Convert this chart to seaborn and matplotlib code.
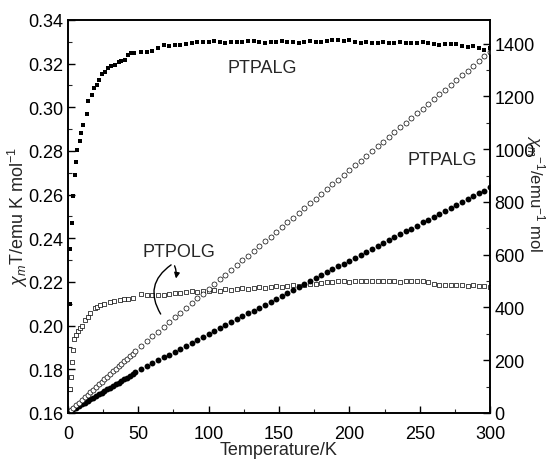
import numpy as np
import pandas as pd
import matplotlib
matplotlib.use("Agg")
import matplotlib.pyplot as plt
import seaborn as sns
from matplotlib.ticker import MultipleLocator

# temperature grids (K)
t_hi = [52, 56, 60, 64, 68, 72, 76, 80, 84, 88, 92, 96, 100, 104, 108, 112, 116, 120,
        124, 128, 132, 136, 140, 144, 148, 152, 156, 160, 164, 168, 172, 176, 180, 184,
        188, 192, 196, 200, 204, 208, 212, 216, 220, 224, 228, 232, 236, 240, 244, 248,
        252, 256, 260, 264, 268, 272, 276, 280, 284, 288, 292, 296, 300]
t_lo = [2, 4, 6, 8, 10, 12, 14, 16, 18, 20, 22, 24, 26, 28, 30, 32, 34, 36, 38, 40,
        42, 44, 46, 48]

# PTPALG chi_m T (filled squares, left axis)
palg_t_lo = [1.2, 1.8, 2.8, 3.6, 5.0, 6.0, 6.8, 8.6, 9.3, 10.7, 13.4, 14.5, 17, 18.8,
             20.4, 22, 24, 26.6, 28.8, 31, 33.6, 36, 38, 40.5, 42.6, 44.7, 47]
palg_chit_lo = [0.210, 0.235, 0.247, 0.2595, 0.269, 0.2747, 0.2805, 0.2845, 0.288,
                0.292, 0.297, 0.303, 0.3056, 0.3088, 0.310, 0.3126, 0.315, 0.3163,
                0.318, 0.3188, 0.3194, 0.3205, 0.321, 0.3216, 0.324, 0.325, 0.325]
palg_chit_hi = [0.3253, 0.3255, 0.3257, 0.3270, 0.3285, 0.3280, 0.3283, 0.3285, 0.3290,
                0.3294, 0.3300, 0.3298, 0.3300, 0.3302, 0.3298, 0.3295, 0.3300, 0.3298,
                0.3300, 0.3302, 0.3305, 0.3300, 0.3296, 0.3300, 0.3298, 0.3302, 0.3300,
                0.3298, 0.3296, 0.3300, 0.3302, 0.3300, 0.3298, 0.3305, 0.3310, 0.3308,
                0.3305, 0.3310, 0.3300, 0.3296, 0.3298, 0.3295, 0.3296, 0.3298, 0.3296,
                0.3295, 0.3298, 0.3296, 0.3294, 0.3296, 0.3298, 0.3296, 0.3288, 0.3285,
                0.3288, 0.3290, 0.3288, 0.3280, 0.3276, 0.3280, 0.3270, 0.3262, 0.3270]

# PTPOLG chi_m T (open squares, left axis)
polg_t_lo = [1.5, 2.2, 2.9, 3.6, 4.3, 5.7, 7, 8.5, 10, 12, 14, 16, 19, 21, 23, 26, 30,
             33, 37, 40, 43, 46]
polg_chit_lo = [0.171, 0.1766, 0.1834, 0.189, 0.194, 0.1955, 0.1977, 0.199, 0.200,
                0.2024, 0.204, 0.2056, 0.208, 0.2087, 0.2093, 0.210, 0.211, 0.2113,
                0.2116, 0.212, 0.2122, 0.2125]
polg_chit_hi = [0.2143, 0.2140, 0.2142, 0.2139, 0.2142, 0.2145, 0.2148, 0.2150, 0.2152,
                0.2157, 0.2155, 0.2158, 0.2160, 0.2162, 0.2160, 0.2166, 0.2165, 0.2168,
                0.2170, 0.2168, 0.2172, 0.2175, 0.2172, 0.2176, 0.2180, 0.2178, 0.2182,
                0.2185, 0.2183, 0.2188, 0.2190, 0.2192, 0.2195, 0.2198, 0.2200, 0.2202,
                0.2203, 0.2200, 0.2203, 0.2202, 0.2204, 0.2203, 0.2202, 0.2203, 0.2202,
                0.2203, 0.2201, 0.2203, 0.2202, 0.2204, 0.2202, 0.2200, 0.2190, 0.2187,
                0.2185, 0.2188, 0.2186, 0.2185, 0.2183, 0.2185, 0.2182, 0.2180, 0.2178]

# PTPALG 1/chi_m (filled circles, right axis)
palg_inv_lo = [7, 13, 19, 26, 32, 38, 45, 51, 58, 64, 70, 77, 83, 90, 96, 102, 109, 115,
               122, 128, 134, 141, 147, 154]
palg_inv_hi = [166, 177, 188, 199, 210, 221, 232, 243, 255, 266, 277, 288, 299, 310, 321,
               332, 343, 355, 366, 377, 388, 399, 410, 421, 432, 444, 455, 466, 477, 488,
               499, 510, 521, 533, 544, 555, 566, 577, 588, 599, 610, 621, 633, 644, 655,
               666, 677, 688, 699, 710, 722, 733, 744, 755, 766, 777, 788, 799, 811, 822,
               833, 841, 856]

# PTPOLG 1/chi_m (open circles, right axis)
polg_inv_lo = [10, 20, 29, 39, 49, 59, 69, 78, 88, 98, 108, 118, 127, 137, 147, 157, 167,
               176, 186, 196, 206, 216, 225, 235]
polg_inv_hi = [254, 272, 290, 308, 326, 344, 362, 380, 398, 416, 434, 452, 470, 488, 506,
               524, 542, 560, 578, 596, 614, 632, 650, 668, 686, 704, 722, 740, 758, 776,
               794, 812, 830, 848, 866, 884, 902, 920, 938, 956, 974, 992, 1010, 1028, 1046,
               1064, 1082, 1100, 1118, 1136, 1154, 1172, 1190, 1208, 1226, 1244, 1262, 1280,
               1298, 1316, 1334, 1352, 1370]

sns.set_style("ticks")
plt.rcParams['font.family'] = ['Liberation Sans', 'DejaVu Sans']
plt.rcParams['mathtext.fontset'] = 'custom'
plt.rcParams['mathtext.rm'] = 'Liberation Sans'
plt.rcParams['mathtext.it'] = 'Liberation Sans:italic'

palg_sq = pd.DataFrame({'T': palg_t_lo + t_hi, 'v': palg_chit_lo + palg_chit_hi})
polg_sq = pd.DataFrame({'T': polg_t_lo + t_hi, 'v': polg_chit_lo + polg_chit_hi})
palg_ci = pd.DataFrame({'T': t_lo + t_hi, 'v': palg_inv_lo + palg_inv_hi})
polg_ci = pd.DataFrame({'T': t_lo + t_hi, 'v': polg_inv_lo + polg_inv_hi})

fig = plt.figure(figsize=(5.47, 4.64), dpi=100)
ax = fig.add_axes([0.124, 0.108, 0.772, 0.847])
ax2 = ax.twinx()

sns.scatterplot(data=palg_sq, x='T', y='v', ax=ax, marker='s', s=9, color='black',
                linewidth=0)
sns.scatterplot(data=polg_sq, x='T', y='v', ax=ax, marker='s', s=10, facecolor='white',
                edgecolor='black', linewidth=0.5)
sns.scatterplot(data=palg_ci, x='T', y='v', ax=ax2, marker='o', s=18, color='black',
                linewidth=0)
sns.scatterplot(data=polg_ci, x='T', y='v', ax=ax2, marker='o', s=13, facecolor='white',
                edgecolor='black', linewidth=0.5)

ax.set_xlim(0, 300)
ax.set_ylim(0.16, 0.34)
ax2.set_ylim(0, 1490)
ax.xaxis.set_major_locator(MultipleLocator(50))
ax.xaxis.set_minor_locator(MultipleLocator(25))
ax.yaxis.set_major_locator(MultipleLocator(0.02))
ax.yaxis.set_minor_locator(MultipleLocator(0.01))
ax2.yaxis.set_major_locator(MultipleLocator(200))
ax2.yaxis.set_minor_locator(MultipleLocator(100))
ax.yaxis.set_major_formatter(matplotlib.ticker.FormatStrFormatter('%.2f'))

for a in (ax, ax2):
    a.tick_params(which='major', direction='in', length=5, width=1, labelsize=13,
                  colors='black', pad=3)
    a.tick_params(which='minor', direction='in', length=3, width=0.8)
    for sp in a.spines.values():
        sp.set_visible(True)
        sp.set_linewidth(1.2)
        sp.set_color('black')
ax.tick_params(top=False, right=False, which='both')
ax.tick_params(axis='x', pad=9)

ax.set_xlabel('Temperature/K', fontsize=13, labelpad=-1)
ax.set_ylabel(r'$\chi_m$T/emu K mol$^{-1}$', fontsize=13, va='center')
ax.yaxis.set_label_coords(-0.118, 0.5)
ax2.set_ylabel(r'$\chi_m$$^{-1}$/emu$^{-1}$ mol', fontsize=12, rotation=270, va='center')
ax2.yaxis.set_label_coords(1.108, 0.56)

ax.text(138, 0.3184, 'PTPALG', fontsize=13, ha='center', va='center')
ax.text(266, 0.276, 'PTPALG', fontsize=13, ha='center', va='center')
ax.text(79, 0.234, 'PTPOLG', fontsize=13, ha='center', va='center')

ax.annotate('', xy=(76.4, 0.2203), xytext=(75, 0.2285),
            arrowprops=dict(arrowstyle='-|>', color='black', lw=1, mutation_scale=8,
                            connectionstyle='arc3,rad=-0.2'))
ax.annotate('', xy=(67, 0.2042), xytext=(75, 0.2285),
            arrowprops=dict(arrowstyle='-', color='black', lw=1,
                            connectionstyle='arc3,rad=0.5'))

fig.savefig('out.png', dpi=100)
